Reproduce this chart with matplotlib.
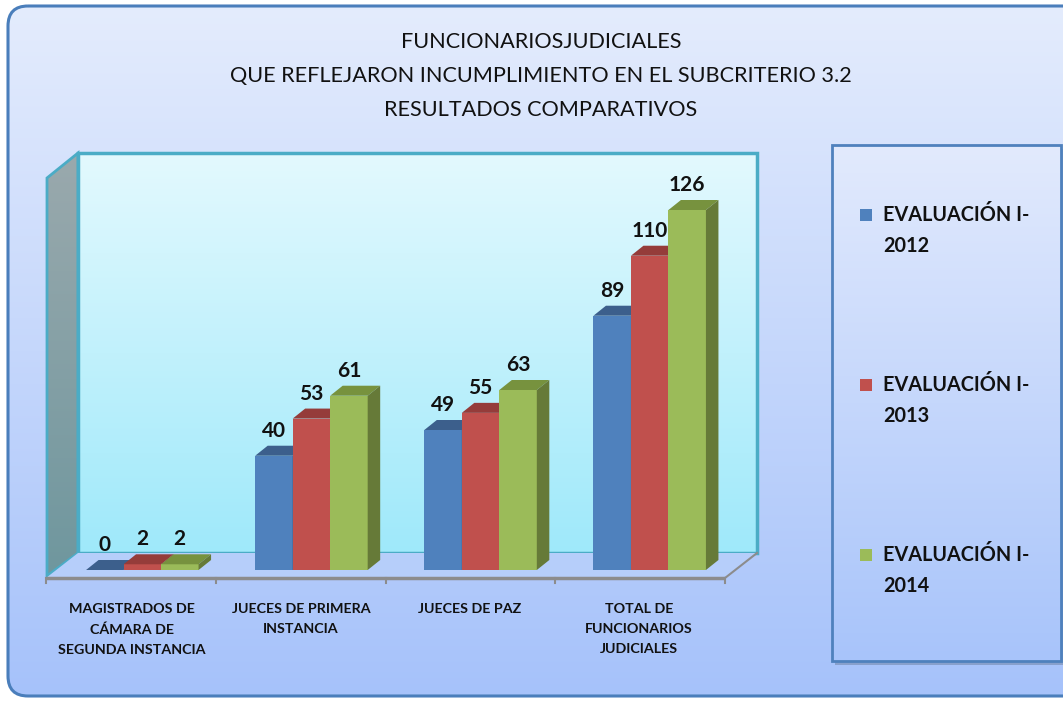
import numpy as np
import matplotlib
matplotlib.use("Agg")
import matplotlib.pyplot as plt
from matplotlib.patches import FancyBboxPatch, Polygon, Rectangle
from matplotlib.transforms import ScaledTranslation
from matplotlib.colors import to_rgb

# ---------------- data ----------------
categories = ["MAGISTRADOS DE\nCÁMARA DE\nSEGUNDA INSTANCIA",
              "JUECES DE PRIMERA\nINSTANCIA",
              "JUECES DE PAZ",
              "TOTAL DE\nFUNCIONARIOS\nJUDICIALES"]
series_names = ["EVALUACIÓN I-2012", "EVALUACIÓN I-2013", "EVALUACIÓN I-2014"]
values_2012 = [0, 40, 49, 89]
values_2013 = [2, 53, 55, 110]
values_2014 = [2, 61, 63, 126]
title_lines = ["FUNCIONARIOSJUDICIALES",
               "QUE REFLEJARON INCUMPLIMIENTO EN EL SUBCRITERIO 3.2",
               "RESULTADOS COMPARATIVOS"]

series_values = [values_2012, values_2013, values_2014]
front_colors = ["#4f81bd", "#c0504d", "#9bbb59"]
top_colors = ["#3c5f8c", "#953c3a", "#77923e"]
side_colors = ["#36557d", "#86393a", "#667a38"]

plt.rcParams['font.family'] = ['Lato', 'DejaVu Sans']

W, H = 1063, 702
fig = plt.figure(figsize=(W / 100, H / 100), dpi=100)
bg = fig.add_axes([0, 0, 1, 1])
bg.axis('off')


def vgrad(ax, x0, y0, x1, y1, c_top, c_bot, clip, z):
    t = np.linspace(0, 1, 256)[:, None]
    ct = np.array(to_rgb(c_top))
    cb = np.array(to_rgb(c_bot))
    img = (ct * (1 - t) + cb * t)[:, None, :]
    im = ax.imshow(img, extent=(x0, x1, y1, y0), aspect='auto', zorder=z,
                   interpolation='bilinear')
    if clip is not None:
        im.set_clip_path(clip)
    return im


# outer frame
frame = FancyBboxPatch((8, 6), 1085 - 8, 696 - 6,
                       boxstyle="round,pad=0,rounding_size=20",
                       facecolor='none', edgecolor='#4a7ebb', lw=2.2, zorder=2)
bg.add_patch(frame)
vgrad(bg, 8, 6, 1085, 696, '#e4ecfd', '#a6c2fa', frame, 1)

# left wall
lw_poly = Polygon([(47, 178), (78, 153), (78, 553), (47, 576)], closed=True,
                  facecolor='none', edgecolor='#4bacc6', lw=2, zorder=4)
bg.add_patch(lw_poly)
vgrad(bg, 47, 153, 78, 576, '#9aa9ad', '#6f979e', lw_poly, 3)

# back wall
bw = Rectangle((78, 153), 757 - 78, 553 - 153, facecolor='none',
               edgecolor='#4bacc6', lw=2.5, zorder=4)
bg.add_patch(bw)
vgrad(bg, 78, 153, 757, 553, '#e3f9fe', '#9fe9fa', bw, 3)

# floor
floor = Polygon([(46, 578), (725, 578), (757, 553), (78, 553)], closed=True,
                facecolor='#b6cefa', edgecolor='none', zorder=4)
bg.add_patch(floor)
bg.plot([46, 725], [578, 578], color='#8c8c8c', lw=2.5, zorder=5,
        solid_capstyle='butt')
bg.plot([725, 757], [578, 553], color='#8c8c8c', lw=1.5, zorder=5)
for tx in [46, 216, 386, 555, 725]:
    bg.plot([tx, tx], [578, 583], color='#8c8c8c', lw=1.5, zorder=5)

# title
bg.text(541, 76, "\n".join(title_lines), ha='center', va='center',
        fontsize=15.6, color='#111111', linespacing=1.9, zorder=6)

# legend box
shadow = Rectangle((835, 149), 229, 516, facecolor='#6a7ea0', alpha=0.5,
                   edgecolor='none', zorder=5)
bg.add_patch(shadow)
lbox = Rectangle((832, 145), 229, 516, facecolor='none', edgecolor='#4f81bd',
                 lw=2, zorder=7)
bg.add_patch(lbox)
vgrad(bg, 832, 145, 1061, 661, '#e2eafd', '#a8c4fa', lbox, 6)
for i, name in enumerate(series_names):
    yc = 215 + 170 * i
    bg.add_patch(Rectangle((860, yc - 6), 12, 12, facecolor=front_colors[i],
                           edgecolor='none', zorder=8))
    first, second = name.rsplit("-", 1)
    bg.text(883, yc, first + "-", ha='left', va='center', fontsize=14.3,
            fontweight='bold', color='#111111', zorder=8)
    bg.text(883, yc + 31, second, ha='left', va='center', fontsize=14.3,
            fontweight='bold', color='#111111', zorder=8)

bg.set_xlim(0, W)
bg.set_ylim(H, 0)

# ---------------- bars ----------------
px_left, px_right = 57.75, 734.25
px_base, px_top = 570, 170
ax = fig.add_axes([px_left / W, (H - px_base) / H, (px_right - px_left) / W,
                   (px_base - px_top) / H])
ax.set_xlim(-0.5, 3.5)
ax.set_ylim(0, 140)
ax.axis('off')
ax.patch.set_alpha(0)

unit_px = (px_right - px_left) / 4.0
bw_data = 37.5 / unit_px
dx = 12.5 / unit_px
dy = 10 * 140 / (px_base - px_top)

x = np.arange(len(categories))
z = 10
for s, vals in enumerate(series_values):
    xs = x + (s - 1) * bw_data
    ax.bar(xs, vals, width=bw_data, color=front_colors[s], zorder=z + 3 * s,
           linewidth=0)
    for xi, v in zip(xs, vals):
        x0, x1 = xi - bw_data / 2, xi + bw_data / 2
        ax.add_patch(Polygon([(x0, v), (x1, v), (x1 + dx, v + dy), (x0 + dx, v + dy)],
                             closed=True, facecolor=top_colors[s], edgecolor='none',
                             zorder=z + 3 * s + 1, clip_on=False))
        ax.add_patch(Polygon([(x1, 0), (x1, v), (x1 + dx, v + dy), (x1 + dx, dy)],
                             closed=True, facecolor=side_colors[s], edgecolor='none',
                             zorder=z + 3 * s + 1, clip_on=False))
        ax.annotate(str(v), (xi, v), xytext=(0, 18), textcoords='offset points',
                    ha='center', va='center', fontsize=15, fontweight='bold',
                    color='#111111', zorder=30, annotation_clip=False)

offset = ScaledTranslation(-0.105, -0.33, fig.dpi_scale_trans)
for i, cat in enumerate(categories):
    ax.text(i, 0, cat, transform=ax.get_xaxis_transform() + offset,
            ha='center', va='top', fontsize=10.3, fontweight='bold',
            color='#111111', linespacing=1.8, zorder=30)

fig.savefig("out.png", dpi=100)
